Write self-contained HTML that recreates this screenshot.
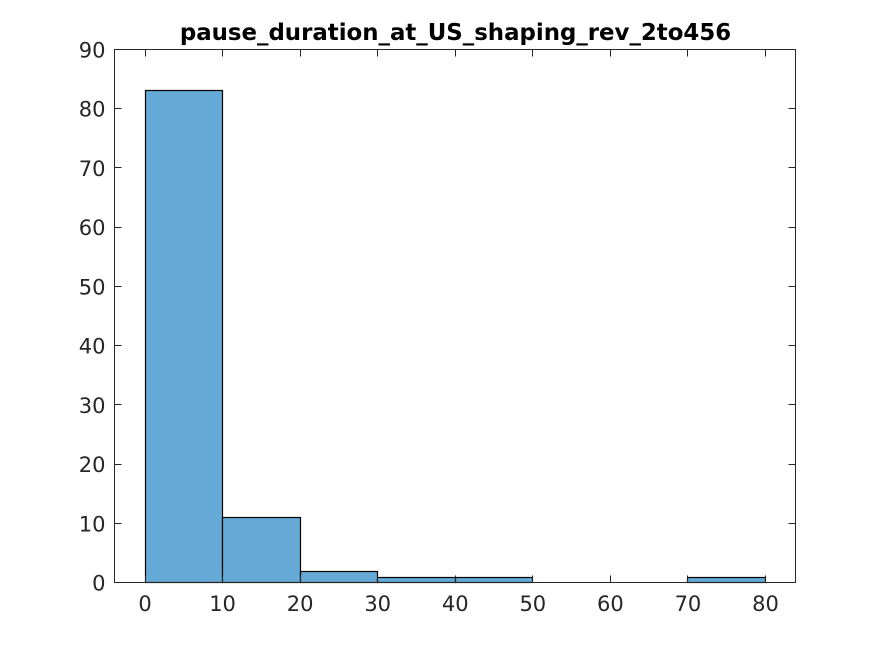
<!DOCTYPE html>
<html>
<head>
<meta charset="utf-8">
<style>
html,body{margin:0;padding:0;background:#fff;}
svg{display:block;}
text{font-family:"DejaVu Sans",sans-serif;}
</style>
</head>
<body>
<svg id="chart" width="880" height="655" viewBox="0 0 880 655" xmlns="http://www.w3.org/2000/svg">
<rect x="0" y="0" width="880" height="655" fill="#ffffff"/>
<rect x="114.5" y="49.5" width="681" height="533" fill="#ffffff"/>
<g id="bars"></g>
<g id="axes"></g>
<text x="455.5" y="40" text-anchor="middle" font-size="22.87" font-weight="bold" fill="#000000">pause_duration_at_US_shaping_rev_2to456</text>
</svg>
<script>
var binEdges = [0, 10, 20, 30, 40, 50, 60, 70, 80];
var binCounts = [83, 11, 2, 1, 1, 0, 0, 1];
var xTicks = [0, 10, 20, 30, 40, 50, 60, 70, 80];
var yTicks = [0, 10, 20, 30, 40, 50, 60, 70, 80, 90];

var NS = 'http://www.w3.org/2000/svg';
var left = 114.5, right = 795.5, top_ = 49.5, bottom = 582.5;
var yDomain = [0, 90];
function xScale(v) { return 145 + v * (765.5 - 145) / 80; }
function yScale(v) { return bottom - (v - yDomain[0]) * (bottom - top_) / (yDomain[1] - yDomain[0]); }
function xSnap(v) { return Math.floor(xScale(v)) + 0.5; }
function barTop(v) { return Math.floor(583 - v * 5.93) + 0.5; }
function make(tag, attrs, parent) {
  var el = document.createElementNS(NS, tag);
  for (var k in attrs) el.setAttribute(k, attrs[k]);
  parent.appendChild(el);
  return el;
}
var barsG = document.getElementById('bars');
var axesG = document.getElementById('axes');

binCounts.forEach(function (c, i) {
  if (c <= 0) return;
  var x0 = xSnap(binEdges[i]), x1 = xSnap(binEdges[i + 1]);
  var y = barTop(c);
  var r = make('rect', {x: x0, y: y, width: x1 - x0, height: bottom - y, fill: '#65a9d7', stroke: '#000000', 'stroke-width': 1.2}, barsG);
  
  
});

var frame = make('rect', {x: left, y: top_, width: right - left, height: bottom - top_, fill: 'none', stroke: '#262626', 'stroke-width': 1}, axesG);



var tickLen = 7;
xTicks.forEach(function (t) {
  var x = xSnap(t);
  var a = make('line', {x1: x, x2: x, y1: bottom, y2: bottom - tickLen, stroke: '#262626', 'stroke-width': 1}, axesG);
  
  
  var b = make('line', {x1: x, x2: x, y1: top_, y2: top_ + tickLen, stroke: '#262626', 'stroke-width': 1}, axesG);
  
  
  var l = make('text', {x: xScale(t), y: 611, 'text-anchor': 'middle', 'font-size': 21, fill: '#262626'}, axesG);
  
  
  l.textContent = t;
});
yTicks.forEach(function (t) {
  var y = Math.round(yScale(t) - 0.5) + 0.5;
  var a = make('line', {x1: left, x2: left + tickLen, y1: y, y2: y, stroke: '#262626', 'stroke-width': 1}, axesG);
  
  
  var b = make('line', {x1: right, x2: right - tickLen, y1: y, y2: y, stroke: '#262626', 'stroke-width': 1}, axesG);
  
  
  var l = make('text', {x: 105.5, y: yScale(t) + 8, 'text-anchor': 'end', 'font-size': 21, fill: '#262626'}, axesG);
  
  
  l.textContent = t;
});
</script>
</body>
</html>
